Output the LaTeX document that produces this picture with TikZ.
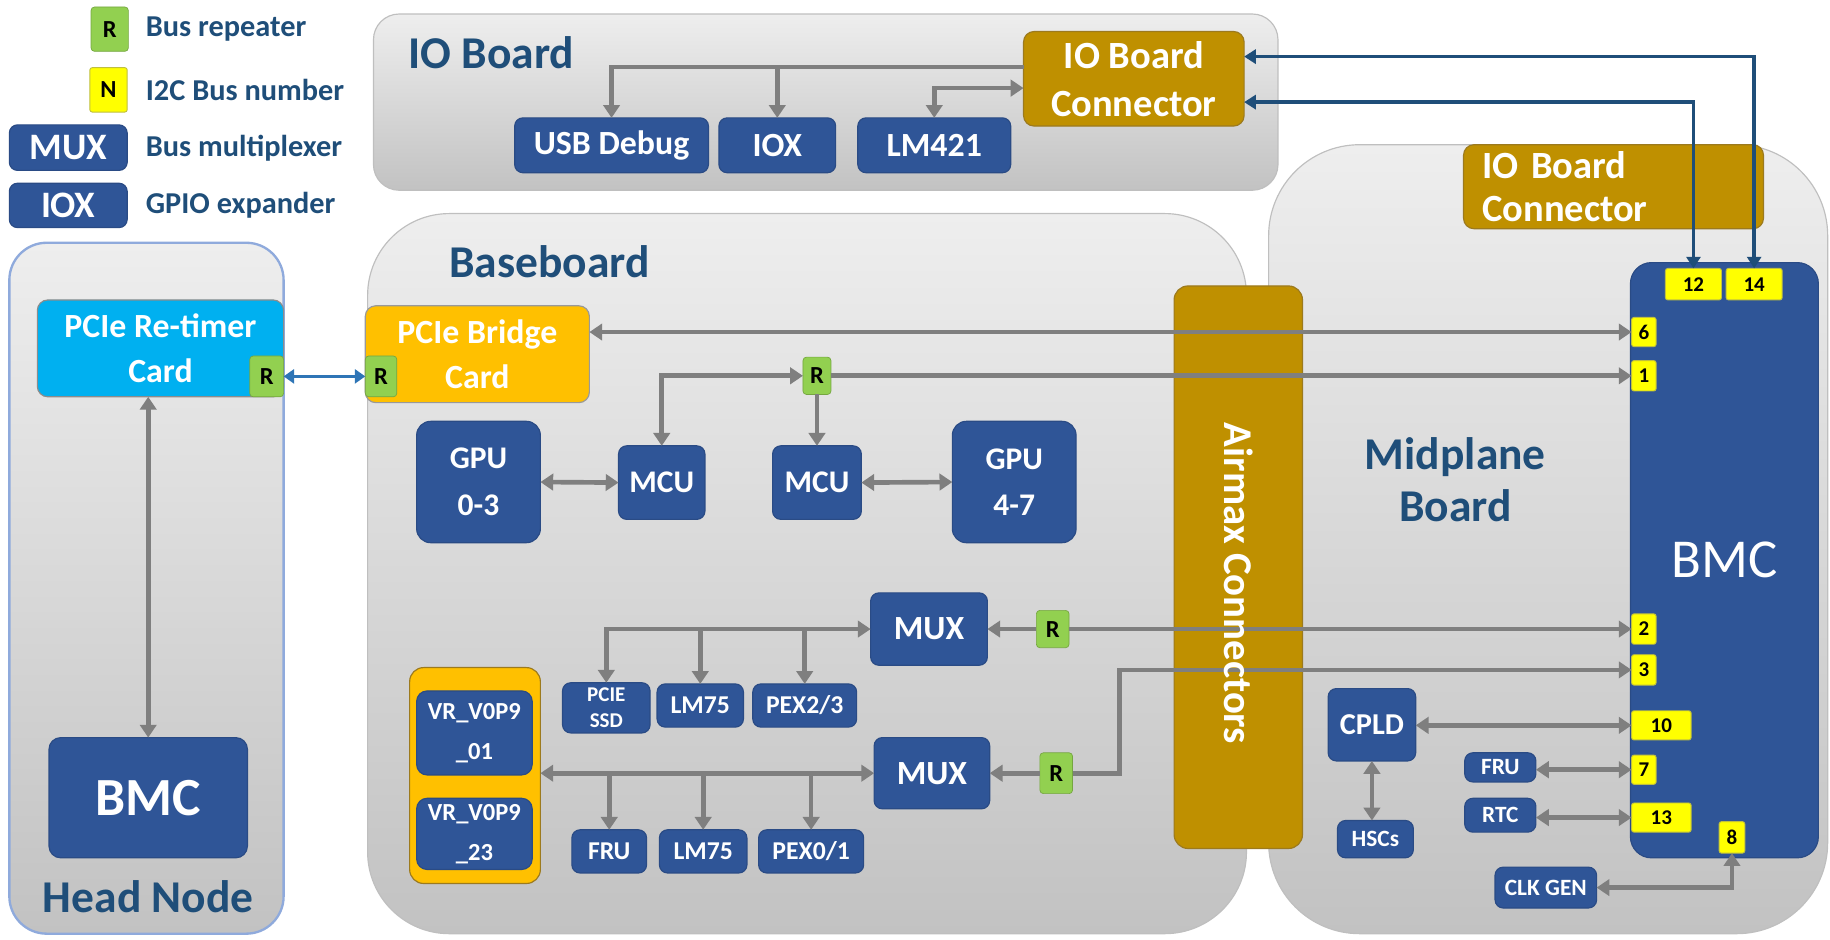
\documentclass[tikz,border=0pt]{standalone}
\usepackage{fontspec}
\setmainfont{Carlito}
\usetikzlibrary{arrows.meta}
\definecolor{navy}{HTML}{2F5597}
\definecolor{navyedge}{HTML}{2A4B85}
\definecolor{inkblue}{HTML}{1F4E79}
\definecolor{linkblue}{HTML}{2E75B6}
\definecolor{gold}{HTML}{BF9000}
\definecolor{goldedge}{HTML}{9C7A1E}
\definecolor{amber}{HTML}{FFC000}
\definecolor{sky}{HTML}{00B0F0}
\definecolor{leaf}{HTML}{92D050}
\definecolor{pinfill}{HTML}{FFFF00}
\definecolor{pinedge}{HTML}{BFBF3F}
\definecolor{wiregray}{HTML}{7F7F7F}
\definecolor{rim}{HTML}{BFBFBF}
\definecolor{headrim}{HTML}{8FAADC}
\definecolor{panelhi}{HTML}{EEEEEE}
\definecolor{panelmid}{HTML}{E2E2E2}
\definecolor{panello}{HTML}{C2C2C2}

% box given by its corners: name, style, x1, y1, x2, y2, text
\newcommand\bx[7]{\node[#2,minimum width=#5pt-#3pt,minimum height=#6pt-#4pt] (#1) at ({(#3+#5)/2},{(#4+#6)/2}) {#7};}

\tikzset{
  base/.style={inner sep=0pt,outer sep=0pt,align=center,font=\bfseries},
  chip/.style={base,fill=navy,draw=navyedge,line width=1pt,rounded corners=7pt,text=white},
  card/.style={base,fill=gold,draw=goldedge,line width=1pt,rounded corners=9pt,text=white},
  rep/.style={base,fill=leaf,draw=leaf!80!black,line width=0.6pt,rounded corners=3pt,text=black,font=\bfseries\fontsize{21}{21}\selectfont},
  pin/.style={base,fill=pinfill,draw=pinedge,line width=0.8pt,rounded corners=2pt,text=black,font=\bfseries\fontsize{18}{18}\selectfont},
  title/.style={base,text=inkblue,font=\bfseries\fontsize{39}{44}\selectfont},
  legend/.style={base,anchor=west,text=inkblue,font=\bfseries\fontsize{26}{30}\selectfont},
  s18/.style={font=\bfseries\fontsize{18}{22}\selectfont},
  s20/.style={font=\bfseries\fontsize{20}{24}\selectfont},
  s21/.style={font=\bfseries\fontsize{21}{34}\selectfont},
  s22/.style={font=\bfseries\fontsize{22}{26}\selectfont},
  s26/.style={font=\bfseries\fontsize{26}{30}\selectfont},
  s27/.style={font=\bfseries\fontsize{27}{40}\selectfont},
  s29/.style={font=\bfseries\fontsize{29}{39}\selectfont},
  s32/.style={font=\bfseries\fontsize{32}{36}\selectfont},
  s33/.style={font=\bfseries\fontsize{33}{41}\selectfont},
  wire/.style={draw=wiregray,line width=4pt,>={Triangle[width=14pt,length=11pt]}},
  bus/.style={draw=inkblue,line width=3pt,>={Triangle[width=12pt,length=10pt]}},
  boardshade/.style={draw=rim,line width=1pt,top color=panelhi,middle color=panelmid,bottom color=panello},
}

\begin{document}
\begin{tikzpicture}[x=1pt,y=-1pt]
\useasboundingbox (0,0) rectangle (1568,805);

% ---------- boards ----------
\path[boardshade,rounded corners=22pt] (320,12) rectangle (1095,163);
\path[boardshade,draw=headrim,line width=2pt,rounded corners=32pt] (8,208) rectangle (243,800);
\path[boardshade,rounded corners=70pt] (315,183) rectangle (1068,800);
\path[boardshade,rounded corners=78pt] (1087,124) rectangle (1566,800);

\node[title,anchor=west] (ioTitle) at (350,45) {IO Board};
\node[title,anchor=west] (bbTitle) at (385,224) {Baseboard};
\node[title] (hnTitle) at (127,768) {Head Node};
\node[title] (mpTitle) at (1247,411) {Midplane\\Board};

% ---------- legend ----------
\bx{lgR}{rep}{78}{6}{110}{44}{R}
\bx{lgN}{pin,font=\bfseries\fontsize{21}{21}\selectfont}{77}{58}{109}{96}{N}
\bx{lgMux}{chip,s32}{8}{107}{109}{146}{MUX}
\bx{lgIox}{chip,s32}{8}{157}{109}{195}{IOX}
\node[legend] (lgRt) at (125,25) {Bus repeater};
\node[legend] (lgNt) at (125,77) {I2C Bus number};
\node[legend] (lgMt) at (125,127) {Bus multiplexer};
\node[legend] (lgIt) at (125,176) {GPIO expander};

% ---------- IO board ----------
\bx{ioc}{card,s33}{877}{27}{1066}{108}{IO Board\\Connector}
\bx{usb}{chip,s29}{441}{101}{607}{148}{USB Debug}
\bx{iox}{chip,s29}{616}{101}{716}{148}{IOX}
\bx{lmf}{chip,s29}{735}{101}{866}{148}{LM421}
\coordinate (ioTap) at ([yshift=10pt]ioc.west);
\draw[wire,->] (ioTap) -| (usb.north);
\draw[wire,->] (ioTap -| iox.north) -- (iox.north);
\draw[wire,<->] ([yshift=-8pt]ioc.west) -| (lmf.north);

% ---------- head node ----------
\bx{retimer}{base,fill=sky,draw=black!45,line width=1pt,rounded corners=9pt,text=white,s29}{32}{257}{243}{340}{PCIe Re-timer\\Card}
\bx{rRt}{rep}{214}{305}{243}{340}{R}
\bx{hbmc}{chip,font=\bfseries\fontsize{46}{46}\selectfont,rounded corners=10pt}{42}{632}{212}{735}{BMC}
\draw[wire,<->] (retimer.south -| hbmc.north) -- (hbmc.north);

% ---------- baseboard ----------
\bx{bridge}{base,fill=amber,draw=black!40,line width=1pt,rounded corners=9pt,text=white,s29}{313}{262}{505}{345}{PCIe Bridge\\Card}
\bx{rBr}{rep}{313}{305}{340}{340}{R}
\draw[draw=linkblue,line width=3pt,>={Triangle[width=12pt,length=9pt]},<->] (rRt.east) -- (rBr.west);

\bx{gpuA}{chip,s27,rounded corners=12pt}{357}{361}{463}{465}{GPU\\0-3}
\bx{mcuA}{chip,s27}{530}{382}{604}{445}{MCU}
\bx{mcuB}{chip,s27}{662}{382}{738}{445}{MCU}
\bx{gpuB}{chip,s27,rounded corners=12pt}{816}{361}{922}{465}{GPU\\4-7}
\bx{rMid}{rep}{688}{306}{712}{338}{R}
\draw[wire,<->] (gpuA.east) -- (mcuA.west);
\draw[wire,<->] (mcuB.east) -- (gpuB.west);
\draw[wire,<->] (mcuA.north) |- (rMid.west);
\draw[wire,->] (rMid.south) -- (rMid.south |- mcuB.north);

\bx{muxA}{chip,s29}{746}{508}{846}{570}{MUX}
\bx{rA}{rep}{888}{523}{916}{555}{R}
\bx{ssd}{chip,s18}{482}{585}{557}{628}{PCIE\\SSD}
\bx{lmA}{chip,s22}{563}{586}{637}{623}{LM75}
\bx{pexA}{chip,s22}{645}{586}{734}{623}{PEX2/3}
\draw[wire,<->] (muxA.west) -| (ssd.north);
\draw[wire,->] (muxA.west -| lmA.north) -- (lmA.north);
\draw[wire,->] (muxA.west -| pexA.north) -- (pexA.north);
\draw[wire,->] (rA.west) -- (muxA.east);

\bx{vrgrp}{base,fill=amber,draw=goldedge,line width=1pt,rounded corners=12pt}{351}{572}{463}{757}{}
\bx{vrA}{chip,s21,rounded corners=9pt}{357}{592}{456}{664}{VR\_V0P9\\\_01}
\bx{vrB}{chip,s21,rounded corners=9pt}{357}{684}{456}{745}{VR\_V0P9\\\_23}
\bx{muxB}{chip,s29}{749}{632}{848}{693}{MUX}
\bx{rB}{rep}{891}{645}{919}{680}{R}
\bx{fruA}{chip,s22}{490}{711}{554}{748}{FRU}
\bx{lmB}{chip,s22}{565}{711}{640}{748}{LM75}
\bx{pexB}{chip,s22}{650}{711}{740}{748}{PEX0/1}
\draw[wire,<->] (vrgrp.east |- muxB.west) -- (muxB.west);
\draw[wire,->] (muxB.west -| fruA.north) -- (fruA.north);
\draw[wire,->] (muxB.west -| lmB.north) -- (lmB.north);
\draw[wire,->] (muxB.west -| pexB.north) -- (pexB.north);
\draw[wire,->] (rB.west) -- (muxB.east);

% ---------- midplane ----------
\bx{airmax}{card,rounded corners=12pt}{1006}{245}{1116}{727}{}
\node[base,anchor=north,text=white,font=\bfseries\fontsize{33}{37}\selectfont,text width=225pt,align=left,minimum width=257pt,minimum height=72pt,fill=gold,draw=goldedge,line width=1pt,rounded corners=9pt] (mioc) at (1382.5,124) {IO Board\\Connector};
\bx{mbmc}{chip,font=\fontsize{47}{47}\selectfont,rounded corners=18pt}{1397}{225}{1558}{735}{BMC}
\bx{pTwelve}{pin}{1427}{230}{1475}{257}{12}
\bx{pFourteen}{pin}{1479}{230}{1527}{257}{14}
\bx{pSix}{pin}{1398}{272}{1419}{297}{6}
\bx{pOne}{pin}{1398}{309}{1419}{335}{1}
\bx{pTwo}{pin}{1398}{526}{1419}{552}{2}
\bx{pThree}{pin}{1398}{561}{1419}{587}{3}
\bx{pTen}{pin}{1398}{609}{1449}{634}{10}
\bx{pSeven}{pin}{1398}{647}{1419}{672}{7}
\bx{pThirteen}{pin}{1398}{688}{1449}{713}{13}
\bx{pEight}{pin}{1473}{704}{1495}{731}{8}

\bx{cpld}{chip,s26}{1138}{590}{1213}{652}{CPLD}
\bx{hsc}{chip,s20}{1146}{703}{1211}{735}{HSCs}
\bx{fruB}{chip,s20}{1255}{645}{1316}{670}{FRU}
\bx{rtc}{chip,s20}{1255}{684}{1316}{713}{RTC}
\bx{clk}{chip,s20}{1281}{743}{1368}{778}{CLK GEN}

\draw[wire,<->] (cpld.east |- pTen.west) -- (pTen.west);
\draw[wire,<->] (cpld.south) -- (cpld.south |- hsc.north);
\draw[wire,<->] (fruB.east |- pSeven.west) -- (pSeven.west);
\draw[wire,<->] (rtc.east |- pThirteen.west) -- (pThirteen.west);
\draw[wire,<->] (clk.east) -| (pEight.south);

% ---------- links crossing the airmax connectors ----------
\draw[wire,<->] (bridge.east |- pSix.west) -- (pSix.west);
\draw[wire,->] (rMid.east) -- (rMid.east -| pOne.west);
\draw[wire,->] (rA.east) -- (rA.east -| pTwo.west);
\draw[wire,->] (rB.east) -- ++(40,0) |- (pThree.west);
\node[base,rotate=-90,text=white,font=\bfseries\fontsize{35}{35}\selectfont] (airmaxText) at ([yshift=-14pt]airmax.center) {Airmax Connectors};

% ---------- IO board connector cables ----------
\draw[bus,<->] ([yshift=19pt]ioc.east) -| (pFourteen.north);
\draw[bus,<->] ([yshift=-20pt]ioc.east) -| (pTwelve.north);
\end{tikzpicture}
\end{document}
